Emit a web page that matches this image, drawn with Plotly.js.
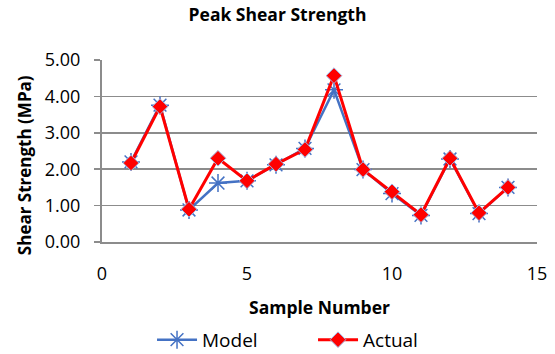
<!DOCTYPE html>
<html>
<head>
<meta charset="utf-8">
<script src="https://cdn.plot.ly/plotly-3.0.1.min.js"></script>
<style>
  html, body { margin: 0; padding: 0; background: #ffffff; }
  #chart { width: 555px; height: 354px; }
</style>
</head>
<body>
<div id="chart"></div>
<script>
// Sample numbers and peak shear strengths (MPa)
const sampleNumbers = [1, 2, 3, 4, 5, 6, 7, 8, 9, 10, 11, 12, 13, 14];
const modelStrength = [2.20, 3.76, 0.88, 1.62, 1.68, 2.12, 2.57, 4.18, 1.99, 1.33, 0.73, 2.28, 0.78, 1.50];
const actualStrength = [2.17, 3.72, 0.90, 2.30, 1.68, 2.14, 2.54, 4.57, 1.99, 1.38, 0.75, 2.30, 0.80, 1.50];
const seriesNames = ['Model', 'Actual'];

const FONT = 'Open Sans, Liberation Sans, sans-serif';

const traces = [
  {
    x: sampleNumbers,
    y: modelStrength,
    name: seriesNames[0],
    type: 'scatter',
    mode: 'lines+markers',
    line: { color: '#4472C4', width: 2.5 },
    marker: { symbol: 'asterisk-open', size: 15, color: '#4472C4', line: { color: '#4472C4', width: 1.5 } }
  },
  {
    x: sampleNumbers,
    y: actualStrength,
    name: seriesNames[1],
    type: 'scatter',
    mode: 'lines+markers',
    line: { color: '#FF0000', width: 3 },
    marker: { symbol: 'diamond', size: 12, color: '#FF0000', line: { color: '#9DB3E0', width: 1 } }
  }
];

const layout = {
  width: 555,
  height: 354,
  margin: { l: 102, r: 18, t: 60, b: 112 },
  paper_bgcolor: '#ffffff',
  plot_bgcolor: '#ffffff',
  font: { family: FONT, size: 18, color: '#000000' },
  title: {
    text: '<b>Peak Shear Strength</b>',
    font: { family: FONT, size: 17.5, color: '#000000' },
    x: 0.5, xref: 'container', xanchor: 'center',
    y: 0.958, yref: 'container', yanchor: 'middle'
  },
  xaxis: {
    range: [0, 15],
    tickmode: 'linear', tick0: 0, dtick: 5,
    showgrid: false,
    zeroline: false,
    showline: true, linecolor: '#8C8C8C', linewidth: 2,
    ticks: '',
    ticklabelstandoff: 14,
    tickfont: { family: FONT, size: 18, color: '#000000' },
    title: { text: '<b>Sample Number</b>', font: { family: FONT, size: 17.5, color: '#000000' }, standoff: 18 }
  },
  yaxis: {
    range: [0, 5],
    tickmode: 'linear', tick0: 0, dtick: 1,
    tickformat: '.2f',
    showgrid: true, gridcolor: '#8C8C8C', gridwidth: 1.5,
    zeroline: false,
    showline: true, linecolor: '#8C8C8C', linewidth: 2,
    ticks: 'outside', ticklen: 6, tickcolor: '#8C8C8C', tickwidth: 1.5,
    ticklabelstandoff: 10,
    tickfont: { family: FONT, size: 18, color: '#000000' }
  },
  annotations: [
    {
      // vertical axis title, set as an annotation so it can sit slightly below the plot's centre
      text: '<b>Shear Strength (MPa)</b>',
      font: { family: FONT, size: 17, color: '#000000' },
      textangle: -90,
      showarrow: false,
      xref: 'paper', x: -0.179, xanchor: 'center',
      yref: 'paper', y: 0.423, yanchor: 'middle'
    }
  ],
  showlegend: true,
  legend: {
    orientation: 'h',
    x: 0.115, xref: 'paper', xanchor: 'left',
    y: 0.04, yref: 'container', yanchor: 'middle',
    font: { family: FONT, size: 19, color: '#000000' },
    itemwidth: 40,
    entrywidth: 106,
    bgcolor: 'rgba(0,0,0,0)'
  }
};

Plotly.newPlot('chart', traces, layout, { displayModeBar: false, staticPlot: true });
</script>
</body>
</html>
